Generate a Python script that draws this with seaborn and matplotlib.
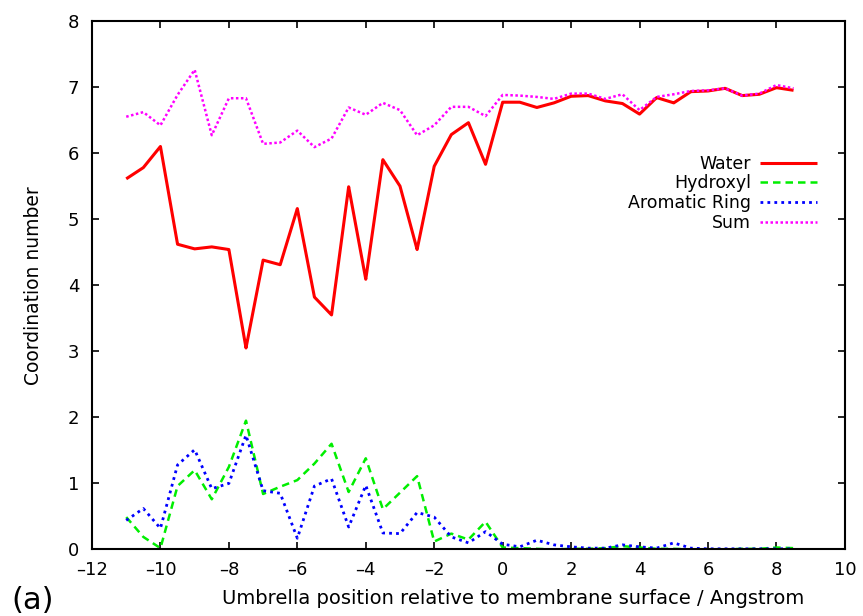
import matplotlib
matplotlib.use("Agg")
import matplotlib.pyplot as plt
import seaborn as sns
import pandas as pd

x_pos = [-11.0, -10.5, -10.0, -9.5, -9.0, -8.5, -8.0, -7.5, -7.0, -6.5,
         -6.0, -5.5, -5.0, -4.5, -4.0, -3.5, -3.0, -2.5, -2.0, -1.5,
         -1.0, -0.5, 0.0, 0.5, 1.0, 1.5, 2.0, 2.5, 3.0, 3.5,
         4.0, 4.5, 5.0, 5.5, 6.0, 6.5, 7.0, 7.5, 8.0, 8.5]

water = [5.61, 5.78, 6.10, 4.62, 4.55, 4.58, 4.54, 3.05, 4.38, 4.31,
         5.16, 3.82, 3.55, 5.49, 4.09, 5.90, 5.50, 4.54, 5.80, 6.28,
         6.46, 5.83, 6.77, 6.77, 6.69, 6.76, 6.86, 6.87, 6.79, 6.75,
         6.59, 6.84, 6.76, 6.93, 6.94, 6.98, 6.87, 6.89, 6.99, 6.95]

hydroxyl = [0.49, 0.19, 0.02, 0.96, 1.20, 0.76, 1.25, 1.95, 0.84, 0.95,
            1.05, 1.30, 1.60, 0.87, 1.38, 0.61, 0.86, 1.11, 0.12, 0.24,
            0.15, 0.42, 0.03, 0.02, 0.01, 0.00, 0.01, 0.01, 0.02, 0.05,
            0.03, 0.01, 0.01, 0.00, 0.00, 0.00, 0.01, 0.01, 0.03, 0.02]

aromatic = [0.44, 0.62, 0.32, 1.28, 1.51, 0.92, 1.00, 1.73, 0.89, 0.85,
            0.17, 0.96, 1.07, 0.34, 0.97, 0.25, 0.24, 0.56, 0.49, 0.19,
            0.10, 0.27, 0.08, 0.04, 0.14, 0.07, 0.04, 0.02, 0.02, 0.07,
            0.04, 0.02, 0.10, 0.02, 0.01, 0.01, 0.01, 0.01, 0.01, 0.01]

total = [6.55, 6.62, 6.42, 6.88, 7.26, 6.27, 6.83, 6.83, 6.14, 6.16,
         6.34, 6.09, 6.22, 6.69, 6.58, 6.76, 6.65, 6.27, 6.42, 6.70,
         6.70, 6.56, 6.88, 6.87, 6.85, 6.82, 6.90, 6.90, 6.82, 6.89,
         6.65, 6.85, 6.89, 6.94, 6.95, 6.98, 6.87, 6.90, 7.03, 6.98]

series_names = ["Water", "Hydroxyl", "Aromatic Ring", "Sum"]
series_values = [water, hydroxyl, aromatic, total]
colors = ["#ff0000", "#00ee00", "#0000ff", "#ff00ff"]
dashes = [(1, 0), (3, 2), (1, 1.5), (1, 1)]
widths = [2.2, 1.8, 2.0, 1.8]

xticks = [-12, -10, -8, -6, -4, -2, 0, 2, 4, 6, 8, 10]
yticks = [0, 1, 2, 3, 4, 5, 6, 7, 8]

sns.set_theme(style="ticks")
plt.rcParams['font.family'] = ['DejaVu Sans']
plt.rcParams['text.color'] = 'black'
plt.rcParams['axes.labelcolor'] = 'black'

df = pd.concat([pd.DataFrame({"x": x_pos, "y": v, "series": n})
                for n, v in zip(series_names, series_values)], ignore_index=True)

fig = plt.figure(figsize=(8.63, 6.16), dpi=100)
ax = fig.add_axes([0.1066, 0.108, 0.8724, 0.858])

for n, c, d, w in zip(series_names, colors, dashes, widths):
    sub = df[df["series"] == n]
    sns.lineplot(data=sub, x="x", y="y", ax=ax, color=c, linewidth=w,
                 label=n, estimator=None, sort=False)
    ax.lines[-1].set_dashes(d)

ax.set_xlim(-12, 10)
ax.set_ylim(0, 8)
ax.set_xticks(xticks)
ax.set_yticks(yticks)
ax.set_xticklabels([str(t).replace("-", "\u2013") for t in xticks])
ax.tick_params(direction="in", length=5, width=1.2, top=True, right=True,
               labelsize=13, colors="black", labelcolor="black")
ax.tick_params(axis="x", pad=8.5)
ax.tick_params(axis="y", pad=9)
for s in ax.spines.values():
    s.set_linewidth(1.5)
    s.set_color("black")
ax.set_xlabel("Umbrella position relative to membrane surface / Angstrom",
              fontsize=14)
ax.xaxis.set_label_coords(0.56, -0.075)
ax.set_ylabel("Coordination number", fontsize=13.5)
ax.yaxis.set_label_coords(-0.065, 0.5)

handles, labels = ax.get_legend_handles_labels()
leg = ax.legend(handles, labels, loc="upper right", bbox_to_anchor=(0.979, 0.77),
                frameon=False, markerfirst=False, fontsize=12.5, handlelength=3.3,
                labelspacing=0.1, handletextpad=0.5, borderpad=0.2)
for t in leg.get_texts():
    t.set_ha("right")
leg._legend_box.align = "right"
for hl, d in zip(leg.get_lines(), dashes):
    hl.set_dashes(d)

fig.text(0.013, 0.002, "(a)", fontsize=22, ha="left", va="bottom")

fig.savefig("out.png", dpi=100)
